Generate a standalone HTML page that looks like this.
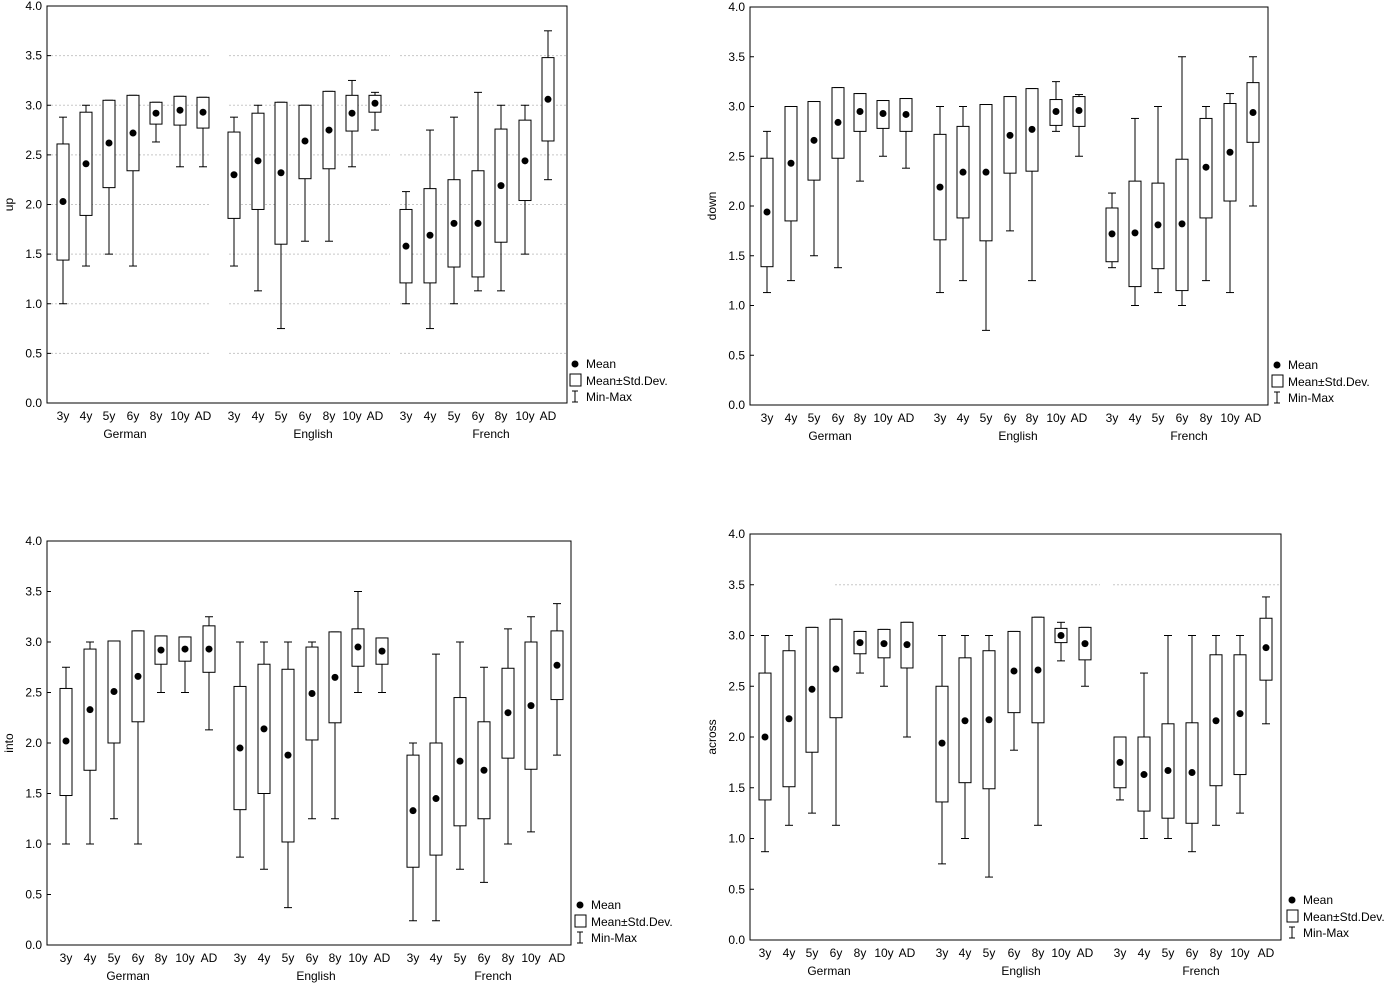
<!DOCTYPE html>
<html><head><meta charset="utf-8"><style>
body{margin:0;background:#fff;}
svg{display:block;font-family:"Liberation Sans",Arial,sans-serif;}
</style></head><body>
<svg id="chart" width="1400" height="986" viewBox="0 0 1400 986"></svg>
<script>
const categories = ["3y","4y","5y","6y","8y","10y","AD","3y","4y","5y","6y","8y","10y","AD","3y","4y","5y","6y","8y","10y","AD"];
const groups = ["German","English","French"];
const yTicks = ["0.0","0.5","1.0","1.5","2.0","2.5","3.0","3.5","4.0"];
const panelTitles = ["up","down","into","across"];
const upMean=[2.03,2.41,2.62,2.72,2.92,2.95,2.93,2.3,2.44,2.32,2.64,2.75,2.92,3.02,1.58,1.69,1.81,1.81,2.19,2.44,3.06];
const upLo=[1.44,1.89,2.17,2.34,2.81,2.8,2.77,1.86,1.95,1.6,2.26,2.36,2.74,2.93,1.21,1.21,1.37,1.27,1.62,2.04,2.64];
const upHi=[2.61,2.93,3.05,3.1,3.03,3.09,3.08,2.73,2.92,3.03,3.0,3.14,3.1,3.1,1.95,2.16,2.25,2.34,2.76,2.85,3.48];
const upMin=[1.0,1.38,1.5,1.38,2.63,2.38,2.38,1.38,1.13,0.75,1.63,1.63,2.38,2.75,1.0,0.75,1.0,1.13,1.13,1.5,2.25];
const upMax=[2.88,3.0,3.05,3.1,3.03,3.09,3.08,2.88,3.0,3.03,3.0,3.14,3.25,3.13,2.13,2.75,2.88,3.13,3.0,3.0,3.75];
const downMean=[1.94,2.43,2.66,2.84,2.95,2.93,2.92,2.19,2.34,2.34,2.71,2.77,2.95,2.96,1.72,1.73,1.81,1.82,2.39,2.54,2.94];
const downLo=[1.39,1.85,2.26,2.48,2.75,2.78,2.75,1.66,1.88,1.65,2.33,2.35,2.81,2.8,1.44,1.19,1.37,1.15,1.88,2.05,2.64];
const downHi=[2.48,3.0,3.05,3.19,3.13,3.06,3.08,2.72,2.8,3.02,3.1,3.18,3.07,3.1,1.98,2.25,2.23,2.47,2.88,3.03,3.24];
const downMin=[1.13,1.25,1.5,1.38,2.25,2.5,2.38,1.13,1.25,0.75,1.75,1.25,2.75,2.5,1.38,1.0,1.13,1.0,1.25,1.13,2.0];
const downMax=[2.75,3.0,3.05,3.19,3.13,3.06,3.08,3.0,3.0,3.02,3.1,3.18,3.25,3.12,2.13,2.88,3.0,3.5,3.0,3.13,3.5];
const intoMean=[2.02,2.33,2.51,2.66,2.92,2.93,2.93,1.95,2.14,1.88,2.49,2.65,2.95,2.91,1.33,1.45,1.82,1.73,2.3,2.37,2.77];
const intoLo=[1.48,1.73,2.0,2.21,2.78,2.81,2.7,1.34,1.5,1.02,2.03,2.2,2.76,2.78,0.77,0.89,1.18,1.25,1.85,1.74,2.43];
const intoHi=[2.54,2.93,3.01,3.11,3.06,3.05,3.16,2.56,2.78,2.73,2.95,3.1,3.13,3.04,1.88,2.0,2.45,2.21,2.74,3.0,3.11];
const intoMin=[1.0,1.0,1.25,1.0,2.5,2.5,2.13,0.87,0.75,0.37,1.25,1.25,2.5,2.5,0.24,0.24,0.75,0.62,1.0,1.12,1.88];
const intoMax=[2.75,3.0,3.01,3.11,3.06,3.05,3.25,3.0,3.0,3.0,3.0,3.1,3.5,3.04,2.0,2.88,3.0,2.75,3.13,3.25,3.38];
const acrossMean=[2.0,2.18,2.47,2.67,2.93,2.92,2.91,1.94,2.16,2.17,2.65,2.66,3.0,2.92,1.75,1.63,1.67,1.65,2.16,2.23,2.88];
const acrossLo=[1.38,1.51,1.85,2.19,2.82,2.78,2.68,1.36,1.55,1.49,2.24,2.14,2.93,2.76,1.5,1.27,1.2,1.15,1.52,1.63,2.56];
const acrossHi=[2.63,2.85,3.08,3.16,3.04,3.06,3.13,2.5,2.78,2.85,3.04,3.18,3.07,3.08,2.0,2.0,2.13,2.14,2.81,2.81,3.17];
const acrossMin=[0.87,1.13,1.25,1.13,2.63,2.5,2.0,0.75,1.0,0.62,1.87,1.13,2.75,2.5,1.38,1.0,1.0,0.87,1.13,1.25,2.13];
const acrossMax=[3.0,3.0,3.08,3.16,3.04,3.06,3.13,3.0,3.0,3.0,3.04,3.18,3.13,3.08,2.0,2.63,3.0,3.0,3.0,3.0,3.38];

const NS="http://www.w3.org/2000/svg";
const svg=document.getElementById("chart");
function mk(tag,attrs,parent,text){const e=document.createElementNS(NS,tag);for(const k in attrs)e.setAttribute(k,attrs[k]);if(text!==undefined)e.textContent=text;(parent||svg).appendChild(e);return e;}

const panels=[
 {name:"up",L:47,R:567,T:6,B:403,xs:[63,86,109,133,156,180,203,234,258,281,305,329,352,375,406,430,454,478,501,525,548],gx:[125,313,491],d:[upMean,upLo,upHi,upMin,upMax],grid:[0.5,1,1.5,2,2.5,3,3.5],gsegs:[[47,210],[229,390],[400,567]],legX:571,legY:364},
 {name:"down",L:750,R:1268,T:7,B:405,xs:[767,791,814,838,860,883,906,940,963,986,1010,1032,1056,1079,1112,1135,1158,1182,1206,1230,1253],gx:[830,1018,1189],d:[downMean,downLo,downHi,downMin,downMax],grid:[],gsegs:[],legX:1273,legY:365},
 {name:"into",L:47,R:571,T:541,B:945,xs:[66,90,114,138,161,185,209,240,264,288,312,335,358,382,413,436,460,484,508,531,557],gx:[128,316,493],d:[intoMean,intoLo,intoHi,intoMin,intoMax],grid:[],gsegs:[],legX:576,legY:905},
 {name:"across",L:750,R:1281,T:534,B:940,xs:[765,789,812,836,860,884,907,942,965,989,1014,1038,1061,1085,1120,1144,1168,1192,1216,1240,1266],gx:[829,1021,1201],d:[acrossMean,acrossLo,acrossHi,acrossMin,acrossMax],grid:[3.5],gsegs:[[835,1100],[1113,1281]],legX:1288,legY:900}
];

panels.forEach((p,pi)=>{
 const g=mk("g",{});
 
 
 const y=v=>p.B-(v/4)*(p.B-p.T);
 p.grid.forEach(v=>{p.gsegs.forEach(s=>{const l=mk("line",{x1:s[0],x2:s[1],y1:y(v),y2:y(v),stroke:"#c8c8c8","stroke-width":1,"stroke-dasharray":"2,2"},g);
  
  });});
 const fr=mk("rect",{x:p.L,y:p.T,width:p.R-p.L,height:p.B-p.T,fill:"none",stroke:"#000","stroke-width":1},g);
 
 
 yTicks.forEach((t,i)=>{const v=i*0.5;
  mk("line",{x1:p.L,x2:p.L+4,y1:y(v),y2:y(v),stroke:"#000"},g);
  const tx=mk("text",{x:p.L-5,y:y(v)+4,"font-size":12,"text-anchor":"end"},g,t);
  
  });
 const cy=(p.T+p.B)/2;
 const yt=mk("text",{x:p.L-34,y:cy,"font-size":12,"text-anchor":"middle",transform:"rotate(-90 "+(p.L-34)+" "+cy+")"},g,panelTitles[pi]);
 
 
 const [mean,lo,hi,mn,mx]=p.d;
 categories.forEach((c,i)=>{const x=p.xs[i];
  const bg=mk("g",{},g);
  
  
  mk("line",{x1:x,x2:x,y1:y(mx[i]),y2:y(mn[i]),stroke:"#000"},bg);
  mk("line",{x1:x-4,x2:x+4,y1:y(mx[i]),y2:y(mx[i]),stroke:"#000"},bg);
  mk("line",{x1:x-4,x2:x+4,y1:y(mn[i]),y2:y(mn[i]),stroke:"#000"},bg);
  mk("rect",{x:x-6,y:y(hi[i]),width:12,height:y(lo[i])-y(hi[i]),fill:"#fff",stroke:"#000"},bg);
  mk("circle",{cx:x,cy:y(mean[i]),r:3.5,fill:"#000"},bg);
  const lt=mk("text",{x:x,y:p.B+17,"font-size":12,"text-anchor":"middle"},g,c);
  
  
 });
 groups.forEach((gn,j)=>{const t=mk("text",{x:p.gx[j],y:p.B+35,"font-size":12,"text-anchor":"middle"},g,gn);
  
  });
 const lg=mk("g",{},g);
 
 
 const lx=p.legX, ly=p.legY;
 mk("circle",{cx:lx+4,cy:ly,r:3.5,fill:"#000"},lg);
 mk("text",{x:lx+15,y:ly+4,"font-size":12},lg,"Mean");
 mk("rect",{x:lx-1,y:ly+10,width:11,height:12,fill:"#fff",stroke:"#000"},lg);
 mk("text",{x:lx+15,y:ly+21,"font-size":12},lg,"Mean±Std.Dev.");
 mk("line",{x1:lx+4,x2:lx+4,y1:ly+27,y2:ly+38,stroke:"#000"},lg);
 mk("line",{x1:lx+1,x2:lx+7,y1:ly+27,y2:ly+27,stroke:"#000"},lg);
 mk("line",{x1:lx+1,x2:lx+7,y1:ly+38,y2:ly+38,stroke:"#000"},lg);
 mk("text",{x:lx+15,y:ly+37,"font-size":12},lg,"Min-Max");
});
</script>
</body></html>
